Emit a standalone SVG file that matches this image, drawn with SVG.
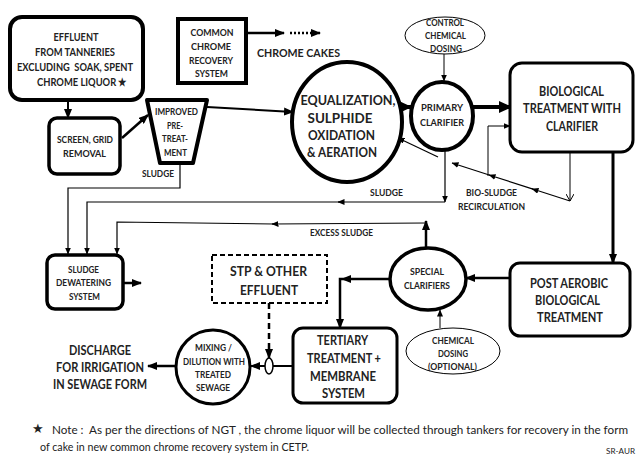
<svg xmlns="http://www.w3.org/2000/svg" width="636" height="456" viewBox="0 0 636 456">
<defs>
<marker id="ah" markerUnits="userSpaceOnUse" markerWidth="10" markerHeight="8" refX="9" refY="4" orient="auto"><path d="M0,0 L10,4 L0,8 z" fill="#000"/></marker>
<marker id="ahs" markerUnits="userSpaceOnUse" markerWidth="7" markerHeight="6" refX="6.5" refY="3" orient="auto"><path d="M0,0 L7,3 L0,6 z" fill="#000"/></marker>
<marker id="ahb" markerUnits="userSpaceOnUse" markerWidth="13" markerHeight="12" refX="12" refY="6" orient="auto"><path d="M0,0 L13,6 L0,12 z" fill="#000"/></marker>
<marker id="ahv" markerUnits="userSpaceOnUse" markerWidth="8" markerHeight="8" refX="7" refY="4" orient="auto"><path d="M0,0 L7,4 L0,8" fill="none" stroke="#000" stroke-width="1"/></marker>
</defs>
<style>
.b{fill:#fff;stroke:#000}
.t{font-family:Lato,"Open Sans","Liberation Sans",sans-serif;font-weight:bold;fill:#222;text-anchor:middle}
.n{font-family:Lato,"Open Sans","Liberation Sans",sans-serif;fill:#222}
.c{fill:none;stroke:#000}
</style>
<rect width="636" height="456" fill="#fff"/>

<g id="connectors">
<line class="c" x1="68" y1="100" x2="68" y2="118" stroke-width="2" marker-end="url(#ah)"/>
<line class="c" x1="122" y1="138" x2="148" y2="115" stroke-width="2.5" marker-end="url(#ah)"/>
<line class="c" x1="207" y1="107" x2="293" y2="112" stroke-width="2" marker-end="url(#ah)"/>
<line class="c" x1="246" y1="33" x2="284" y2="33" stroke-width="2.5" marker-end="url(#ah)"/>
<line class="c" x1="290" y1="33" x2="320" y2="33" stroke-width="2.5" stroke-dasharray="2,2" marker-end="url(#ah)"/>
<line class="c" x1="396" y1="107" x2="411" y2="107" stroke-width="4" marker-end="url(#ahb)"/>
<line class="c" x1="473" y1="107" x2="511" y2="107" stroke-width="4" marker-end="url(#ahb)"/>
<line class="c" x1="444" y1="54" x2="444" y2="81" stroke-width="1" marker-end="url(#ahs)"/>
<line class="c" x1="445" y1="150" x2="445" y2="202" stroke-width="1.2" marker-end="url(#ahs)"/>
<line class="c" x1="445" y1="202" x2="338" y2="202" stroke-width="1.2" marker-end="url(#ahs)"/>
<path class="c" d="M340,202 H87 V254" stroke-width="1.2" marker-end="url(#ahs)"/>
<path class="c" d="M180,163 V188 H68 V254" stroke-width="1.2" marker-end="url(#ahs)"/>
<line class="c" x1="426" y1="248" x2="426" y2="221" stroke-width="2.5" marker-end="url(#ah)"/>
<line class="c" x1="426" y1="223" x2="272" y2="224" stroke-width="1.2" marker-end="url(#ahs)"/>
<path class="c" d="M274,224 L117,222 V254" stroke-width="1.2" marker-end="url(#ahs)"/>
<line class="c" x1="570" y1="152" x2="570" y2="201" stroke-width="1" marker-end="url(#ahv)"/>
<line class="c" x1="570" y1="201" x2="532" y2="188.8" stroke-width="1.2" marker-end="url(#ahs)"/>
<line class="c" x1="533" y1="189.1" x2="489" y2="175" stroke-width="1.2" marker-end="url(#ahs)"/>
<line class="c" x1="490" y1="175.2" x2="452" y2="163" stroke-width="1.2" marker-end="url(#ahs)"/>
<path class="c" d="M488,176 V126 H510" stroke-width="1" marker-end="url(#ahs)"/>
<line class="c" x1="438" y1="157" x2="398" y2="138" stroke-width="1.2" marker-end="url(#ahs)"/>
<line class="c" x1="613" y1="152" x2="613" y2="263" stroke-width="3" marker-end="url(#ah)"/>
<line class="c" x1="510" y1="278" x2="466" y2="278" stroke-width="2.5" marker-end="url(#ah)"/>
<line class="c" x1="389" y1="279" x2="342" y2="279" stroke-width="2.5" marker-end="url(#ah)"/>
<path class="c" d="M342,279 H340 V328" stroke-width="2.5" marker-end="url(#ah)"/>
<line class="c" x1="440" y1="328" x2="440" y2="310" stroke-width="1" marker-end="url(#ahs)"/>
<line class="c" x1="269" y1="303" x2="269" y2="358" stroke-width="2.5" stroke-dasharray="6,4" marker-end="url(#ah)"/>
<line class="c" x1="293" y1="366" x2="273" y2="366" stroke-width="2"/>
<line class="c" x1="265" y1="366" x2="251" y2="366" stroke-width="2" marker-end="url(#ah)"/>
<line class="c" x1="176" y1="366" x2="148" y2="366" stroke-width="2.5" marker-end="url(#ah)"/>
<line class="c" x1="123" y1="283" x2="141" y2="283" stroke-width="2.5" marker-end="url(#ah)"/>
<ellipse class="b" cx="269" cy="366" rx="4" ry="8" stroke-width="1.5"/>
</g>

<g id="effluent">
<rect class="b" x="10" y="17" width="133" height="83" rx="12" stroke-width="4"/>
<text class="t" font-size="11" x="76" y="41" textLength="45" lengthAdjust="spacingAndGlyphs">EFFLUENT</text>
<text class="t" font-size="11" x="75" y="56" textLength="80" lengthAdjust="spacingAndGlyphs">FROM TANNERIES</text>
<text class="t" font-size="11" x="75" y="71" textLength="116" lengthAdjust="spacingAndGlyphs" xml:space="preserve">EXCLUDING  SOAK, SPENT</text>
<text class="t" font-size="11" x="82" y="86" textLength="90" lengthAdjust="spacingAndGlyphs">CHROME LIQUOR ★</text>
</g>

<g id="chrome-recovery">
<rect class="b" x="178" y="19" width="68" height="64" stroke-width="4"/>
<text class="t" font-size="9.5" x="212" y="35.5" textLength="43" lengthAdjust="spacingAndGlyphs" font-weight="600">COMMON</text>
<text class="t" font-size="9.5" x="211" y="49.5" textLength="40" lengthAdjust="spacingAndGlyphs">CHROME</text>
<text class="t" font-size="9.5" x="211" y="63.5" textLength="44" lengthAdjust="spacingAndGlyphs">RECOVERY</text>
<text class="t" font-size="9.5" x="211.5" y="76.5" textLength="33" lengthAdjust="spacingAndGlyphs">SYSTEM</text>
</g>

<g id="chrome-cakes">
<text class="t" font-size="12" x="298.5" y="57.3" textLength="83" lengthAdjust="spacingAndGlyphs">CHROME CAKES</text>
</g>

<g id="screen">
<rect class="b" x="49" y="118" width="71" height="56" rx="8" stroke-width="3.5"/>
<text class="t" font-size="9.5" x="85" y="143.4" textLength="56" lengthAdjust="spacingAndGlyphs">SCREEN, GRID</text>
<text class="t" font-size="9.5" x="84.5" y="157.4" textLength="43" lengthAdjust="spacingAndGlyphs">REMOVAL</text>
</g>

<g id="pretreatment">
<polygon class="b" points="147,100 207,100 193,163 160,163" stroke-width="4" stroke-linejoin="round"/>
<text class="t" font-size="9" x="176.5" y="115.2" textLength="43" lengthAdjust="spacingAndGlyphs">IMPROVED</text>
<text class="t" font-size="9" x="175" y="129.2" textLength="16" lengthAdjust="spacingAndGlyphs">PRE-</text>
<text class="t" font-size="9" x="175" y="142.2" textLength="26" lengthAdjust="spacingAndGlyphs">TREAT-</text>
<text class="t" font-size="9" x="175.5" y="156.2" textLength="23" lengthAdjust="spacingAndGlyphs">MENT</text>
<text class="t" font-size="8.5" x="158" y="177" textLength="32" lengthAdjust="spacingAndGlyphs">SLUDGE</text>
</g>

<g id="equalization">
<ellipse class="b" cx="347" cy="122" rx="55" ry="60" stroke-width="4"/>
<text class="t" font-size="12.5" x="348" y="104.5" textLength="95" lengthAdjust="spacingAndGlyphs">EQUALIZATION,</text>
<text class="t" font-size="12.5" x="340" y="122.5" textLength="65" lengthAdjust="spacingAndGlyphs">SULPHIDE</text>
<text class="t" font-size="12.5" x="341.5" y="139.5" textLength="67" lengthAdjust="spacingAndGlyphs">OXIDATION</text>
<text class="t" font-size="12.5" x="342" y="156.5" textLength="70" lengthAdjust="spacingAndGlyphs">&amp; AERATION</text>
</g>

<g id="control-dosing">
<ellipse class="b" cx="445" cy="35.5" rx="40" ry="18.5" stroke-width="1"/>
<text class="t" font-size="8.5" x="445" y="26" textLength="38" lengthAdjust="spacingAndGlyphs" font-weight="normal">CONTROL</text>
<text class="t" font-size="8.5" x="445.5" y="39" textLength="41" lengthAdjust="spacingAndGlyphs" font-weight="normal">CHEMICAL</text>
<text class="t" font-size="8.5" x="446" y="52" textLength="32" lengthAdjust="spacingAndGlyphs" font-weight="normal">DOSING</text>
</g>

<g id="primary-clarifier">
<ellipse class="b" cx="442" cy="116" rx="31" ry="34" stroke-width="4"/>
<text class="t" font-size="10" x="442" y="110.6" textLength="42" lengthAdjust="spacingAndGlyphs">PRIMARY</text>
<text class="t" font-size="10" x="442" y="125.6" textLength="44" lengthAdjust="spacingAndGlyphs">CLARIFIER</text>
</g>

<g id="biological">
<rect class="b" x="510" y="63" width="123" height="89" rx="12" stroke-width="3"/>
<text class="t" font-size="12.5" x="571.5" y="95.5" textLength="65" lengthAdjust="spacingAndGlyphs">BIOLOGICAL</text>
<text class="t" font-size="12.5" x="572" y="112.5" textLength="98" lengthAdjust="spacingAndGlyphs">TREATMENT WITH</text>
<text class="t" font-size="12.5" x="572" y="130.5" textLength="52" lengthAdjust="spacingAndGlyphs">CLARIFIER</text>
</g>

<g id="labels">
<text class="t" font-size="8.5" x="386.5" y="196" textLength="33" lengthAdjust="spacingAndGlyphs">SLUDGE</text>
<text class="t" font-size="8.5" x="491.5" y="196" textLength="51" lengthAdjust="spacingAndGlyphs">BIO-SLUDGE</text>
<text class="t" font-size="8.5" x="491.5" y="210" textLength="67" lengthAdjust="spacingAndGlyphs">RECIRCULATION</text>
<text class="t" font-size="8.5" x="341.5" y="236" textLength="63" lengthAdjust="spacingAndGlyphs">EXCESS SLUDGE</text>
</g>

<g id="post-aerobic">
<rect class="b" x="510" y="263" width="120" height="73" rx="10" stroke-width="3"/>
<text class="t" font-size="12.5" x="569" y="287.5" textLength="78" lengthAdjust="spacingAndGlyphs">POST AEROBIC</text>
<text class="t" font-size="12.5" x="567.5" y="304.5" textLength="65" lengthAdjust="spacingAndGlyphs">BIOLOGICAL</text>
<text class="t" font-size="12.5" x="570" y="321.5" textLength="66" lengthAdjust="spacingAndGlyphs">TREATMENT</text>
</g>

<g id="special-clarifiers">
<ellipse class="b" cx="428" cy="279" rx="38" ry="31" stroke-width="3.5"/>
<text class="t" font-size="8.5" x="427" y="275" textLength="34" lengthAdjust="spacingAndGlyphs">SPECIAL</text>
<text class="t" font-size="8.5" x="427" y="289" textLength="46" lengthAdjust="spacingAndGlyphs">CLARIFIERS</text>
</g>

<g id="chemical-dosing-optional">
<ellipse class="b" cx="453" cy="351" rx="47" ry="23" stroke-width="1"/>
<text class="t" font-size="8.5" x="453" y="344" textLength="42" lengthAdjust="spacingAndGlyphs" font-weight="normal">CHEMICAL</text>
<text class="t" font-size="8.5" x="453" y="357" textLength="30" lengthAdjust="spacingAndGlyphs" font-weight="normal">DOSING</text>
<text class="t" font-size="8.5" x="452.5" y="370" textLength="49" lengthAdjust="spacingAndGlyphs" font-weight="normal">(OPTIONAL)</text>
</g>

<g id="tertiary">
<rect class="b" x="293" y="328" width="104" height="75" rx="10" stroke-width="3"/>
<text class="t" font-size="12.5" x="342.5" y="344.5" textLength="51" lengthAdjust="spacingAndGlyphs">TERTIARY</text>
<text class="t" font-size="12.5" x="344" y="362.5" textLength="74" lengthAdjust="spacingAndGlyphs">TREATMENT +</text>
<text class="t" font-size="12.5" x="343" y="380.5" textLength="66" lengthAdjust="spacingAndGlyphs">MEMBRANE</text>
<text class="t" font-size="12.5" x="343.5" y="397.5" textLength="43" lengthAdjust="spacingAndGlyphs">SYSTEM</text>
</g>

<g id="stp">
<rect x="212" y="255" width="115" height="48" fill="#fff" stroke="#000" stroke-width="2" stroke-dasharray="5,3"/>
<text class="t" font-size="13" x="268.5" y="275.7" textLength="77" lengthAdjust="spacingAndGlyphs" font-weight="600">STP &amp; OTHER</text>
<text class="t" font-size="13" x="269" y="294.7" textLength="58" lengthAdjust="spacingAndGlyphs" font-weight="600">EFFLUENT</text>
</g>

<g id="mixing">
<circle class="b" cx="213" cy="367" r="37" stroke-width="3"/>
<text class="t" font-size="8.5" x="213.5" y="351" textLength="37" lengthAdjust="spacingAndGlyphs">MIXING /</text>
<text class="t" font-size="8.5" x="214" y="365" textLength="62" lengthAdjust="spacingAndGlyphs">DILUTION WITH</text>
<text class="t" font-size="8.5" x="213" y="378" textLength="36" lengthAdjust="spacingAndGlyphs">TREATED</text>
<text class="t" font-size="8.5" x="213" y="391" textLength="34" lengthAdjust="spacingAndGlyphs">SEWAGE</text>
</g>

<g id="discharge">
<text class="t" font-size="12.5" x="100" y="354.5" textLength="62" lengthAdjust="spacingAndGlyphs">DISCHARGE</text>
<text class="t" font-size="12.5" x="100" y="371.5" textLength="88" lengthAdjust="spacingAndGlyphs">FOR IRRIGATION</text>
<text class="t" font-size="12.5" x="100" y="388.5" textLength="94" lengthAdjust="spacingAndGlyphs">IN SEWAGE FORM</text>
</g>

<g id="sludge-dewatering">
<rect class="b" x="47" y="255" width="76" height="54" rx="8" stroke-width="3.5"/>
<text class="t" font-size="8.5" x="83.5" y="273" textLength="31" lengthAdjust="spacingAndGlyphs" font-weight="normal">SLUDGE</text>
<text class="t" font-size="8.5" x="83.5" y="286" textLength="55" lengthAdjust="spacingAndGlyphs" font-weight="normal">DEWATERING</text>
<text class="t" font-size="8.5" x="84.5" y="300" textLength="31" lengthAdjust="spacingAndGlyphs" font-weight="normal">SYSTEM</text>
</g>

<g id="note">
<text class="n" font-size="13" x="32" y="432.5">★</text>
<text class="n" font-size="11.5" x="52" y="433.5" textLength="576" lengthAdjust="spacingAndGlyphs" xml:space="preserve">Note :  As per the directions of NGT , the chrome liquor will be collected through tankers for recovery in the form</text>
<text class="n" font-size="11.5" x="40" y="450.5" textLength="269" lengthAdjust="spacingAndGlyphs">of cake in new common chrome recovery system in CETP.</text>
<text class="n" font-size="7.5" x="606" y="454" textLength="29" lengthAdjust="spacingAndGlyphs">SR-AUR</text>
</g>
</svg>
